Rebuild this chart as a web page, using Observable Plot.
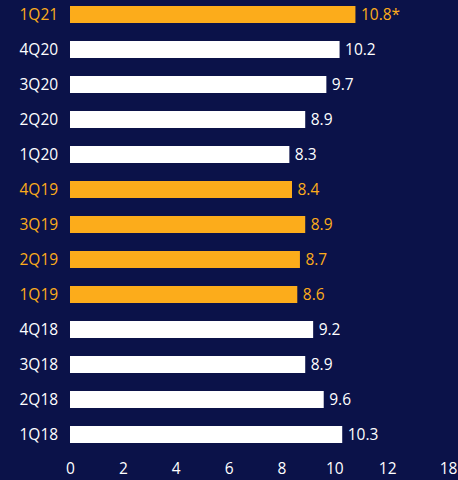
<!DOCTYPE html>
<html>
<head>
<meta charset="utf-8">
<script src="https://cdn.jsdelivr.net/npm/d3@7"></script>
<script src="https://cdn.jsdelivr.net/npm/@observablehq/plot@0.6"></script>
<style>
  html, body { margin: 0; padding: 0; background: #0b1249; }
  #chart svg { display: block; }
</style>
</head>
<body>
<div id="chart"></div>
<script>
const quarters = ["1Q21","4Q20","3Q20","2Q20","1Q20","4Q19","3Q19","2Q19","1Q19","4Q18","3Q18","2Q18","1Q18"];
const values = [10.8, 10.2, 9.7, 8.9, 8.3, 8.4, 8.9, 8.7, 8.6, 9.2, 8.9, 9.6, 10.3];
const valueLabels = ["10.8*","10.2","9.7","8.9","8.3","8.4","8.9","8.7","8.6","9.2","8.9","9.6","10.3"];
const highlighted = ["1Q21","4Q19","3Q19","2Q19","1Q19"];
const tickValues = [0, 2, 4, 6, 8, 10, 12];
const tickLabels = ["0", "2", "4", "6", "8", "10", "12"];
const lastTickValue = [14];
const lastTickLabel = ["18"];

const ORANGE = "#fcac1b";
const WHITE = "#ffffff";
const BG = "#0b1249";
const FS = 15.5;

const data = quarters.map((q, i) => ({
  q, v: values[i], label: valueLabels[i],
  color: highlighted.includes(q) ? ORANGE : WHITE
}));

const chart = Plot.plot({
  width: 458,
  height: 480,
  marginLeft: 70,
  marginRight: 18,
  marginTop: 0,
  marginBottom: 32,
  style: { background: BG, fontFamily: "'Open Sans', sans-serif", fontSize: FS + "px", color: WHITE },
  x: { domain: [0, 14] },
  y: { domain: quarters, paddingInner: 0.52, paddingOuter: 0.1 },
  marks: [
    Plot.barX(data, { x: "v", y: "q", fill: d => d.color }),
    Plot.text(data, { x: "v", y: "q", text: "label", fill: d => d.color, textAnchor: "start", dx: 5, fontSize: FS }),
    Plot.text(data, { y: "q", text: "q", fill: d => d.color, frameAnchor: "left", textAnchor: "start", dx: -51, fontSize: FS }),
    Plot.axisX({ ticks: tickValues, tickFormat: d => tickLabels[tickValues.indexOf(d)], tickSize: 0, tickPadding: 14, fontSize: FS, color: WHITE, label: null }),
    Plot.axisX({ ticks: lastTickValue, tickFormat: d => lastTickLabel[lastTickValue.indexOf(d)], tickSize: 0, tickPadding: 14, dx: 8, fontSize: FS, color: WHITE, label: null }),
    Plot.axisY({ ticks: [], label: null })
  ]
});
document.getElementById("chart").append(chart);
</script>
</body>
</html>
